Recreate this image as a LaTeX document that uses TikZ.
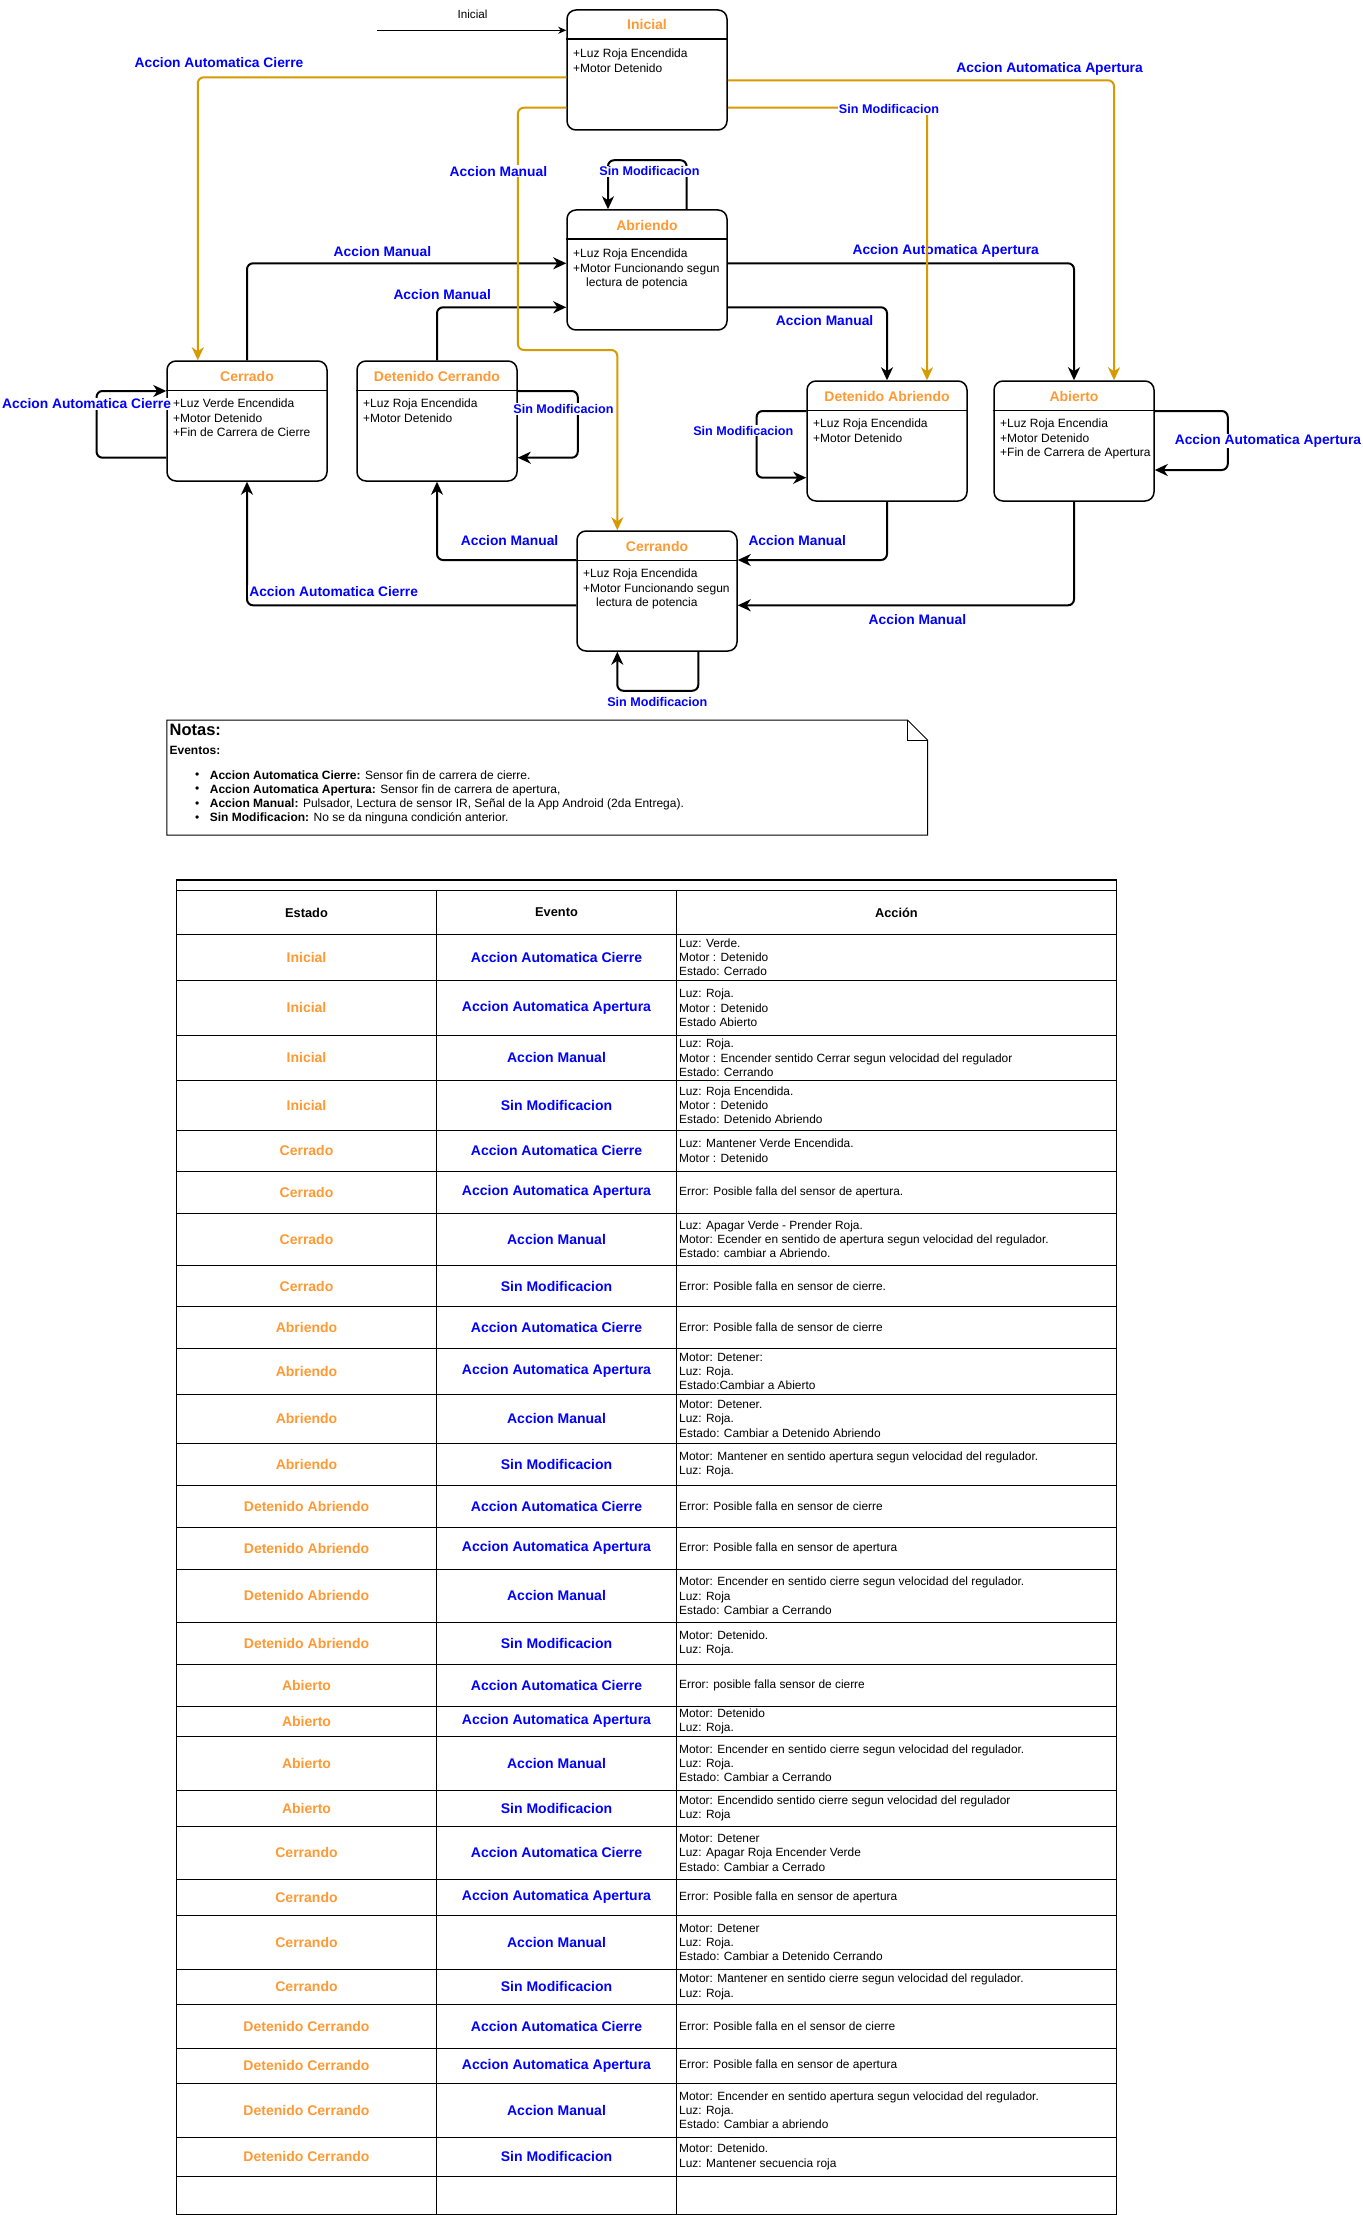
\documentclass[tikz,border=0pt]{standalone}
\usepackage{fontspec}
\setmainfont{Liberation Sans}
\usetikzlibrary{arrows.meta}
\definecolor{gold}{HTML}{D79B00}
\definecolor{stcol}{HTML}{FF9933}
\definecolor{evblue}{HTML}{0000FF}
\tikzset{
 stbox/.style={draw, line width=1.5pt, rounded corners=9pt, minimum width=160pt, minimum height=120pt, inner sep=0pt},
 stname/.style={text=stcol, font=\bfseries\fontsize{14}{16}\selectfont, inner sep=0pt},
 body/.style={anchor=north west, align=left, inner sep=0pt, font=\fontsize{12}{14.3}\selectfont},
 edge/.style={draw, line width=2pt, rounded corners=6pt, -{Stealth[length=13pt,width=12pt,inset=4pt]}},
 goldedge/.style={edge, draw=gold},
 lbl/.style={text=evblue, font=\bfseries\fontsize{13.8}{16}\selectfont, fill=white, inner sep=1pt},
 slbl/.style={lbl, font=\bfseries\fontsize{12.6}{15}\selectfont},
 tline/.style={line width=1.3pt},
 estado/.style={text=stcol, font=\bfseries\fontsize{14}{16}\selectfont, inner sep=0pt},
 evento/.style={text=evblue, font=\bfseries\fontsize{14}{16}\selectfont, inner sep=0pt},
 accion/.style={anchor=west, align=left, inner sep=0pt, font=\fontsize{11.9}{14.2}\selectfont},
 thead/.style={font=\bfseries\fontsize{12.8}{15}\selectfont, inner sep=0pt},
 notetxt/.style={anchor=west, inner sep=0pt, font=\fontsize{12}{14}\selectfont},
}
\newcounter{rowi}
\newcommand{\tabrow}[5]{%
 \stepcounter{rowi}%
 \draw[tline] (176.4,#2) -- (1116.4,#2);
 \node[estado] (es\arabic{rowi}) at (306.5,{(#1+#2)/2}) {#3};
 \node[evento] (ev\arabic{rowi}) at (556.5,{(#1+#2)/2}) {#4};
 \node[accion] (ac\arabic{rowi}) at (679,{(#1+#2)/2}) {#5};
}
\begin{document}
\begin{tikzpicture}[x=1pt,y=-1pt]
\useasboundingbox (0,0) rectangle (1362,2215);
\fill[white] (0,0) rectangle (1362,2215);

% ---------- states ----------
\node[stbox] (ini) at (647,70) {};
\node[stbox] (abr) at (647,270) {};
\node[stbox] (cdo) at (247,421) {};
\node[stbox] (dc) at (437,421) {};
\node[stbox] (cando) at (657,591) {};
\node[stbox] (da) at (887,441) {};
\node[stbox] (abt) at (1074,441) {};
\foreach \n in {ini,abr,cdo,dc,cando,da,abt}
  \draw[line width=1.5pt] ([yshift=-30pt]\n.north west) -- ([yshift=-30pt]\n.north east);

\node[stname] (iniT) at (647,25) {Inicial};
\node[stname] (abrT) at (647,225) {Abriendo};
\node[stname] (cdoT) at (247,376) {Cerrado};
\node[stname] (dcT) at (437,376) {Detenido Cerrando};
\node[stname] (candoT) at (657,546) {Cerrando};
\node[stname] (daT) at (887,396) {Detenido Abriendo};
\node[stname] (abtT) at (1074,396) {Abierto};

\node[body] (iniB) at (573,49) {+Luz Roja Encendida\\+Motor Detenido};
\node[body] (abrB) at (573,249) {+Luz Roja Encendida\\+Motor Funcionando segun\\\hspace*{13pt}lectura de potencia};
\node[body] (cdoB) at (173,399) {+Luz Verde Encendida\\+Motor Detenido\\+Fin de Carrera de Cierre};
\node[body] (dcB) at (363,399) {+Luz Roja Encendida\\+Motor Detenido};
\node[body] (candoB) at (583,569) {+Luz Roja Encendida\\+Motor Funcionando segun\\\hspace*{13pt}lectura de potencia};
\node[body] (daB) at (813,419) {+Luz Roja Encendida\\+Motor Detenido};
\node[body] (abtB) at (1000,419) {+Luz Roja Encendia\\+Motor Detenido\\+Fin de Carrera de Apertura};

% ---------- initial arrow ----------
\coordinate (s0) at (377,30.3);
\draw[line width=1pt, -{Stealth[length=8pt,width=7pt,inset=2.5pt]}] (s0) -- (s0 -| ini.west);
\node[inner sep=0pt, font=\fontsize{11.7}{14}\selectfont] (l1) at (472.5,14.7) {Inicial};

% ---------- black edges ----------
\draw[edge] (cdo.north) |- ([yshift=6.7pt]abr.west);
\draw[edge] (dc.north) |- ([yshift=-37.3pt]abr.west);
\draw[edge] ([yshift=6.7pt]abr.east) -| (abt.north);
\draw[edge] ([yshift=-37.3pt]abr.east) -| (da.north);
\draw[edge] ([xshift=39.6pt]abr.north) -- ++(0,-49) -| ([xshift=-39pt]abr.north);
\draw[edge] ([yshift=-36.7pt]cdo.west) -- ++(-69.7,0) |- ([yshift=30pt]cdo.west);
\draw[edge] ([yshift=30pt]dc.east) -- ++(60,0) |- ([yshift=-36.7pt]dc.east);
\draw[edge] ([yshift=31pt]cando.west) -| (dc.south);
\draw[edge] ([yshift=-14.3pt]cando.west) -| (cdo.south);
\draw[edge] ([xshift=41.3pt]cando.south) -- ++(0,39) -| ([xshift=-39.7pt]cando.south);
\draw[edge] (da.south) |- ([yshift=31pt]cando.east);
\draw[edge] (abt.south) |- ([yshift=-14.3pt]cando.east);
\draw[edge] ([yshift=30pt]da.west) -- ++(-49.6,0) |- ([yshift=-36.7pt]da.west);
\draw[edge] ([yshift=30pt]abt.east) -- ++(73,0) |- ([yshift=-29pt]abt.east);

% black edge labels
\node[slbl] (l6) at (649.5,171.3) {Sin Modificacion};
\node[lbl] (l7) at (382.4,251.7) {Accion Manual};
\node[lbl] (l8) at (442.2,295) {Accion Manual};
\node[lbl] (l9) at (945.7,251.3) {Accion Automatica Apertura};
\node[lbl] (l10) at (824.6,321) {Accion Manual};
\node[lbl] (l11) at (86.6,404) {Accion Automatica Cierre};
\node[slbl] (l12) at (563.4,409) {Sin Modificacion};
\node[lbl] (l13) at (509.6,540.3) {Accion Manual};
\node[lbl] (l14) at (333.7,591.3) {Accion Automatica Cierre};
\node[slbl] (l15) at (657.3,701.7) {Sin Modificacion};
\node[lbl] (l16) at (797.2,540.3) {Accion Manual};
\node[lbl] (l17) at (917.4,620) {Accion Manual};
\node[slbl] (l18) at (743.3,430.7) {Sin Modificacion};
\node[lbl] (l19) at (1268,441) {Accion Automatica Apertura};

% ---------- gold edges ----------
\draw[goldedge] ([yshift=-7.3pt]ini.west) -| ([xshift=-49.2pt]cdo.north);
\draw[goldedge] ([yshift=-37.7pt]ini.west) -| (517.9,350) -| ([xshift=-39.7pt]cando.north);
\draw[goldedge] ([yshift=-10.3pt]ini.east) -| ([xshift=40pt]abt.north);
\draw[goldedge] ([yshift=-37.7pt]ini.east) -| ([xshift=40pt]da.north);
\node[lbl] (l2) at (219,62.3) {Accion Automatica Cierre};
\node[lbl] (l3) at (498.4,171.3) {Accion Manual};
\node[lbl] (l4) at (1049.6,69.3) {Accion Automatica Apertura};
\node[slbl] (l5) at (889,109) {Sin Modificacion};

% ---------- notes ----------
\draw[line width=1pt] (166.8,720) -- (907.5,720) -- (927.5,740) -- (927.5,835) -- (166.8,835) -- cycle;
\draw[line width=1pt] (907.5,720) -- (907.5,740) -- (927.5,740);
\node[anchor=west, inner sep=0pt, font=\bfseries\fontsize{16.5}{18}\selectfont] (n0) at (169.4,730) {Notas:};
\node[notetxt, font=\bfseries\fontsize{12}{14}\selectfont] (n1) at (169.4,750.7) {Eventos:};
\foreach \yy/\nm in {775.7/a,790/b,804.3/c,818.7/d}
  \node[notetxt] (bul\nm) at (195,\yy) {•};
\node[notetxt] (n2) at (209.7,775.7) {\textbf{Accion Automatica Cierre:} Sensor fin de carrera de cierre.};
\node[notetxt] (n3) at (209.7,790) {\textbf{Accion Automatica Apertura:} Sensor fin de carrera de apertura,};
\node[notetxt] (n4) at (209.7,804.3) {\textbf{Accion Manual:} Pulsador, Lectura de sensor IR, Señal de la App Android (2da Entrega).};
\node[notetxt] (n5) at (209.7,818.7) {\textbf{Sin Modificacion:} No se da ninguna condición anterior.};

% ---------- table ----------
\draw[tline] (176.4,880) rectangle (1116.4,2214.3);
\draw[tline] (176.4,890.7) -- (1116.4,890.7);
\draw[tline] (436.6,890.7) -- (436.6,2214.3);
\draw[tline] (676.4,890.7) -- (676.4,2214.3);
\node[thead] (h1) at (306.5,912.5) {Estado};
\node[thead] (h2) at (556.5,912.5) {Evento};
\node[thead] (h3) at (896.4,912.5) {Acción};
\draw[tline] (176.4,934.3) -- (1116.4,934.3);

\tabrow{934.3}{980.3}{Inicial}{Accion Automatica Cierre}{Luz: Verde.\\Motor : Detenido\\Estado: Cerrado}
\tabrow{980.3}{1035.3}{Inicial}{Accion Automatica Apertura}{Luz: Roja.\\Motor : Detenido\\Estado Abierto}
\tabrow{1035.3}{1080.3}{Inicial}{Accion Manual}{Luz: Roja.\\Motor : Encender sentido Cerrar segun velocidad del regulador\\Estado: Cerrando}
\tabrow{1080.3}{1130.3}{Inicial}{Sin Modificacion}{Luz: Roja Encendida.\\Motor : Detenido\\Estado: Detenido Abriendo}
\tabrow{1130.3}{1171.3}{Cerrado}{Accion Automatica Cierre}{Luz: Mantener Verde Encendida.\\Motor : Detenido}
\tabrow{1171.3}{1213.3}{Cerrado}{Accion Automatica Apertura}{Error: Posible falla del sensor de apertura.}
\tabrow{1213.3}{1265.7}{Cerrado}{Accion Manual}{Luz: Apagar Verde - Prender Roja.\\Motor: Ecender en sentido de apertura segun velocidad del regulador.\\Estado: cambiar a Abriendo.}
\tabrow{1265.7}{1306.7}{Cerrado}{Sin Modificacion}{Error: Posible falla en sensor de cierre.}
\tabrow{1306.7}{1348.3}{Abriendo}{Accion Automatica Cierre}{Error: Posible falla de sensor de cierre}
\tabrow{1348.3}{1394.3}{Abriendo}{Accion Automatica Apertura}{Motor: Detener:\\Luz: Roja.\\Estado:Cambiar a Abierto}
\tabrow{1394.3}{1443.3}{Abriendo}{Accion Manual}{Motor: Detener.\\Luz: Roja.\\Estado: Cambiar a Detenido Abriendo}
\tabrow{1443.3}{1485.3}{Abriendo}{Sin Modificacion}{Motor: Mantener en sentido apertura segun velocidad del regulador.\\Luz: Roja.}
\tabrow{1485.3}{1527.3}{Detenido Abriendo}{Accion Automatica Cierre}{Error: Posible falla en sensor de cierre}
\tabrow{1527.3}{1569.3}{Detenido Abriendo}{Accion Automatica Apertura}{Error: Posible falla en sensor de apertura}
\tabrow{1569.3}{1622.3}{Detenido Abriendo}{Accion Manual}{Motor: Encender en sentido cierre segun velocidad del regulador.\\Luz: Roja\\Estado: Cambiar a Cerrando}
\tabrow{1622.3}{1664.3}{Detenido Abriendo}{Sin Modificacion}{Motor: Detenido.\\Luz: Roja.}
\tabrow{1664.3}{1706.3}{Abierto}{Accion Automatica Cierre}{Error: posible falla sensor de cierre}
\tabrow{1706.3}{1736.3}{Abierto}{Accion Automatica Apertura}{Motor: Detenido\\Luz: Roja.}
\tabrow{1736.3}{1790.3}{Abierto}{Accion Manual}{Motor: Encender en sentido cierre segun velocidad del regulador.\\Luz: Roja.\\Estado: Cambiar a Cerrando}
\tabrow{1790.3}{1826.3}{Abierto}{Sin Modificacion}{Motor: Encendido sentido cierre segun velocidad del regulador\\Luz: Roja}
\tabrow{1826.3}{1879.3}{Cerrando}{Accion Automatica Cierre}{Motor: Detener\\Luz: Apagar Roja Encender Verde\\Estado: Cambiar a Cerrado}
\tabrow{1879.3}{1915.3}{Cerrando}{Accion Automatica Apertura}{Error: Posible falla en sensor de apertura}
\tabrow{1915.3}{1969.3}{Cerrando}{Accion Manual}{Motor: Detener\\Luz: Roja.\\Estado: Cambiar a Detenido Cerrando}
\tabrow{1969.3}{2004.3}{Cerrando}{Sin Modificacion}{Motor: Mantener en sentido cierre segun velocidad del regulador.\\Luz: Roja.}
\tabrow{2004.3}{2048.3}{Detenido Cerrando}{Accion Automatica Cierre}{Error: Posible falla en el sensor de cierre}
\tabrow{2048.3}{2083.3}{Detenido Cerrando}{Accion Automatica Apertura}{Error: Posible falla en sensor de apertura}
\tabrow{2083.3}{2137.3}{Detenido Cerrando}{Accion Manual}{Motor: Encender en sentido apertura segun velocidad del regulador.\\Luz: Roja.\\Estado: Cambiar a abriendo}
\tabrow{2137.3}{2176.3}{Detenido Cerrando}{Sin Modificacion}{Motor: Detenido.\\Luz: Mantener secuencia roja}
\end{tikzpicture}
\end{document}
